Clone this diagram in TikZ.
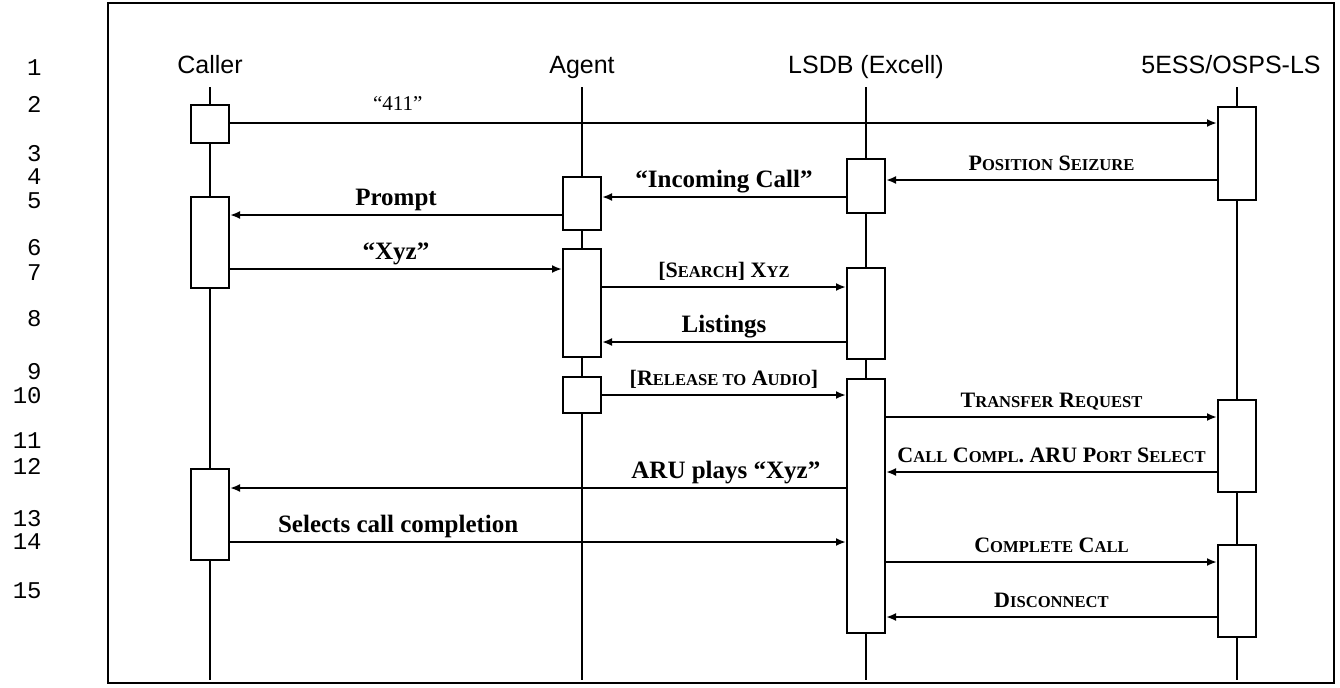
\documentclass[tikz,border=0pt]{standalone}
\usepackage{fontspec}
\setmainfont{Liberation Serif}
\setsansfont{Liberation Sans}
\setmonofont{Liberation Mono}
\usetikzlibrary{arrows.meta}
\newcommand{\sck}[1]{{\fontsize{8.3}{10}\selectfont #1}}

\begin{document}
\begin{tikzpicture}[x=0.5pt, y=-0.5pt,
  head/.style={font=\sffamily\fontsize{12.5}{14}\selectfont, inner sep=0pt,
               minimum height=20pt, text height=9pt, text depth=2.5pt},
  num/.style={font=\ttfamily\fontsize{12}{13}\selectfont, anchor=east, inner sep=0pt},
  life/.style={line width=1pt},
  act/.style={draw, line width=1pt, fill=white, inner sep=0pt,
              minimum width=19pt, minimum height=#1*0.5pt},
  msg/.style={line width=1pt, -{Latex[length=5pt,width=4pt]}},
  lbl/.style={font=\bfseries\fontsize{12.5}{14}\selectfont, anchor=base, yshift=5pt, inner sep=0pt},
  scl/.style={font=\bfseries\fontsize{11}{13}\selectfont, anchor=base, yshift=5pt, inner sep=0pt},
  quo/.style={font=\fontsize{10.5}{12}\selectfont, anchor=base, yshift=6.5pt, inner sep=0pt}]
  \useasboundingbox (0,0) rectangle (1340,687);
  \draw[line width=0.8pt] (108,3) rectangle (1334,683);
  % step numbers
  \node[num] (r1) at (42,68) {1};   \node[num] (r2) at (42,104) {2};
  \node[num] (r3) at (42,154) {3};  \node[num] (r4) at (42,177) {4};
  \node[num] (r5) at (42,201) {5};  \node[num] (r6) at (42,248) {6};
  \node[num] (r7) at (42,273) {7};  \node[num] (r8) at (42,319) {8};
  \node[num] (r9) at (42,372) {9};  \node[num] (r10) at (42,396) {10};
  \node[num] (r11) at (42,441) {11}; \node[num] (r12) at (42,466) {12};
  \node[num] (r13) at (42,519) {13}; \node[num] (r14) at (42,542) {14};
  \node[num] (r15) at (42,591) {15};
  % the four parties
  \node[head] (caller) at (210,67)  {Caller};
  \node[head] (agent)  at (582,67)  {Agent};
  \node[head] (lsdb)   at (866,67)  {LSDB (Excell)};
  \node[head] (ess)    at (1231,67) {5ESS/OSPS-LS};
  \coordinate (bot) at (0,680);
  \draw[life] (caller.south) -- (caller |- bot);
  \draw[life] (agent.south) -- (agent |- bot);
  \draw[life] (lsdb.south) -- (lsdb |- bot);
  \draw[life] (ess.south -| 1237,0) -- (1237,0 |- bot);
  % activations
  \node[act=38]  (c1) at (210,124)   {};
  \node[act=91]  (c2) at (210,242.5) {};
  \node[act=91]  (c3) at (210,514.5) {};
  \node[act=53]  (a1) at (582,203.5) {};
  \node[act=108] (a2) at (582,303)   {};
  \node[act=36]  (a3) at (582,395)   {};
  \node[act=54]  (l1) at (866,186)   {};
  \node[act=91]  (l2) at (866,313.5) {};
  \node[act=254] (l3) at (866,506)   {};
  \node[act=93]  (s1) at (1237,153.5) {};
  \node[act=92]  (s2) at (1237,446)  {};
  \node[act=92]  (s3) at (1237,591)  {};
  % messages
  \draw[msg] (c1.east |- 0,123) -- node[quo, pos=0.17] {“411”} (s1.west |- 0,123);
  \draw[msg] (s1.west |- 0,180) -- node[scl] {P\sck{OSITION} S\sck{EIZURE}} (l1.east |- 0,180);
  \draw[msg] (l1.west |- 0,197) -- node[lbl] {“Incoming Call”} (a1.east |- 0,197);
  \draw[msg] (a1.west |- 0,215) -- node[lbl] {Prompt} (c2.east |- 0,215);
  \draw[msg] (c2.east |- 0,269) -- node[lbl] {“Xyz”} (a2.west |- 0,269);
  \draw[msg] (a2.east |- 0,287) -- node[scl] {[S\sck{EARCH}] X\sck{YZ}} (l2.west |- 0,287);
  \draw[msg] (l2.west |- 0,342) -- node[lbl] {Listings} (a2.east |- 0,342);
  \draw[msg] (a3.east |- 0,395) -- node[scl] {[R\sck{ELEASE TO} A\sck{UDIO}]} (l3.west |- 0,395);
  \draw[msg] (l3.east |- 0,417) -- node[scl] {T\sck{RANSFER} R\sck{EQUEST}} (s2.west |- 0,417);
  \draw[msg] (s2.west |- 0,472) -- node[scl] {C\sck{ALL} C\sck{OMPL}. ARU P\sck{ORT} S\sck{ELECT}} (l3.east |- 0,472);
  \draw[msg] (l3.west |- 0,488) -- node[lbl, pos=0.195] {ARU plays “Xyz”} (c3.east |- 0,488);
  \draw[msg] (c3.east |- 0,542) -- node[lbl, pos=0.273] {Selects call completion} (l3.west |- 0,542);
  \draw[msg] (l3.east |- 0,562) -- node[scl] {C\sck{OMPLETE} C\sck{ALL}} (s3.west |- 0,562);
  \draw[msg] (s3.west |- 0,617) -- node[scl] {D\sck{ISCONNECT}} (l3.east |- 0,617);
\end{tikzpicture}
\end{document}
